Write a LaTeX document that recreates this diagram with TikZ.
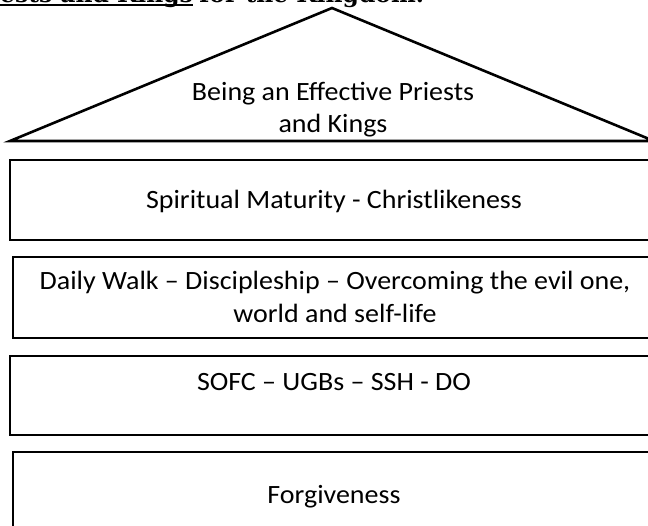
\documentclass[tikz,border=0pt]{standalone}
\usepackage{fontspec}
\setmainfont{Carlito}[FakeStretch=1.06]
\newfontfamily\titlefont{DejaVu Serif}
\begin{document}
\begin{tikzpicture}[x=1bp,y=-1bp,
  shapeline/.style={draw=black,line width=2.6bp,line join=miter},
  lbl/.style={font=\fontsize{26.5}{33}\selectfont,align=center,inner sep=0pt,anchor=base},
  ttl/.style={font=\titlefont\bfseries\fontsize{23.5}{28}\selectfont,inner sep=0pt,anchor=base west}]
\useasboundingbox (0,0) rectangle (648,526);
\clip (0,0) rectangle (648,526);
% title remnant (cut at the top edge)
\node[ttl] (tu) at (0,3) {ests and Kings};
\node[ttl,anchor=base west] (tk) at ([xshift=6bp]tu.base east) {for the Kingdom.};
\draw[line width=1.6bp] ([yshift=-2bp]tu.base west) -- ([yshift=-2bp]tu.base east);
% roof
\coordinate (tl) at (10,141);
\coordinate (tt) at (332,8);
\coordinate (tr) at (654,141);
\draw[shapeline] (tl) -- (tt) -- (tr) -- cycle;
\node[lbl] (roof) at (333,133) {Being an Effective Priests\\and Kings};
% boxes
\draw[shapeline] (10,160) rectangle (662,240);
\node[lbl] (t1) at (334,209) {Spiritual Maturity - Christlikeness};
\draw[shapeline] (13,257) rectangle (662,338);
\node[lbl] (t2) at (335,322) {Daily Walk -- Discipleship -- Overcoming the evil one,\\world and self-life};
\draw[shapeline] (10,356) rectangle (662,435);
\node[lbl] (t3) at (334,390) {SOFC -- UGBs -- SSH - DO};
\draw[shapeline] (13,452) rectangle (662,560);
\node[lbl] (t4) at (334,503) {Forgiveness};
\end{tikzpicture}
\end{document}
